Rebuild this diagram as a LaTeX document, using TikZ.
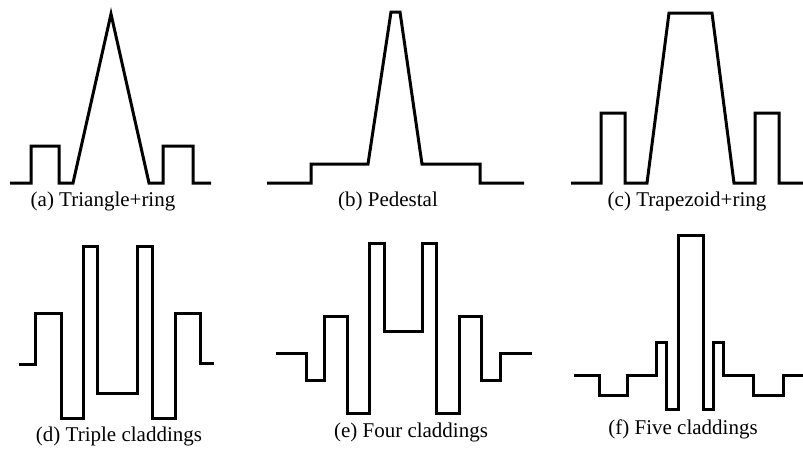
\documentclass[tikz,border=0pt]{standalone}
\usepackage{fontspec}
\setmainfont{Liberation Serif}
\begin{document}
\begin{tikzpicture}[x=1pt,y=-1pt,
  profile/.style={line width=3pt,line join=miter,line cap=butt},
  caption/.style={font=\fontsize{21}{24}\selectfont,inner sep=0pt,anchor=center}]
\useasboundingbox (0,0) rectangle (803,450);
% (a) triangle core with a ring
\draw[profile] (10,183) -- (31,183) -- (31,146) -- (59,146) -- (59,183) -- (73,183)
  -- (111,14) -- (149,183) -- (163,183) -- (163,146) -- (193,146) -- (193,183) -- (211,183);
% (b) pedestal
\draw[profile] (267,183) -- (311,183) -- (311,164) -- (368,164) -- (391,12) -- (400,12)
  -- (422,164) -- (480,164) -- (480,183) -- (524,183);
% (c) trapezoid core with a ring
\draw[profile] (571,183) -- (601,183) -- (601,113) -- (625,113) -- (625,183) -- (647,183)
  -- (669,13) -- (712,13) -- (734,183) -- (755,183) -- (755,113) -- (779,113) -- (779,183) -- (803,183);
% (d) triple claddings
\draw[profile] (19,364) -- (35,364) -- (35,313) -- (61,313) -- (61,418) -- (83,418)
  -- (83,246) -- (97,246) -- (97,393) -- (137,393) -- (137,246) -- (152,246) -- (152,418)
  -- (175,418) -- (175,313) -- (200,313) -- (200,363) -- (214,363);
% (e) four claddings
\draw[profile] (276,353) -- (306,353) -- (306,380) -- (324,380) -- (324,316) -- (347,316)
  -- (347,413) -- (369,413) -- (369,243) -- (384,243) -- (384,331) -- (422,331) -- (422,243)
  -- (436,243) -- (436,413) -- (459,413) -- (459,316) -- (481,316) -- (481,380) -- (500,380)
  -- (500,353) -- (532,353);
% (f) five claddings
\draw[profile] (574,375) -- (599,375) -- (599,395) -- (627,395) -- (627,375) -- (656,375)
  -- (656,342) -- (666,342) -- (666,409) -- (678,409) -- (678,235) -- (703,235) -- (703,409)
  -- (713,409) -- (713,342) -- (723,342) -- (723,375) -- (753,375) -- (753,395) -- (783,395)
  -- (783,375) -- (803,375);
% captions
\node[caption] (capa) at (103,201) {(a) Triangle+ring};
\node[caption] (capb) at (388,201) {(b) Pedestal};
\node[caption] (capc) at (687,201) {(c) Trapezoid+ring};
\node[caption] (capd) at (119,436) {(d) Triple claddings};
\node[caption] (cape) at (411,432) {(e) Four claddings};
\node[caption] (capf) at (683,429) {(f) Five claddings};
\end{tikzpicture}
\end{document}
